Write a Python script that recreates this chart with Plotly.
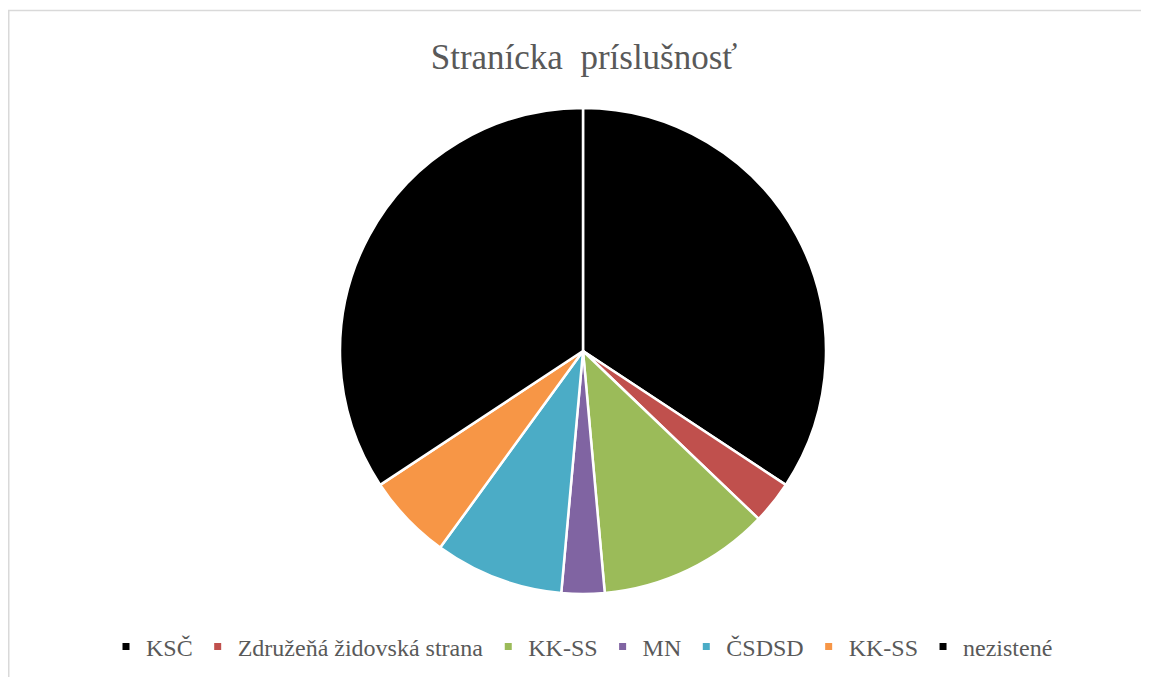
import plotly.graph_objects as go

labels = ["KSČ", "Združeňá židovská strana", "KK-SS", "MN", "ČSDSD", "KK-SS ", "nezistené"]
legend_names = ["KSČ", "Združeňá židovská strana", "KK-SS", "MN", "ČSDSD", "KK-SS", "nezistené"]
values = [12, 1, 4, 1, 3, 2, 12]
colors = ["#000000", "#C0504D", "#9BBB59", "#8064A2", "#4BACC6", "#F79646", "#000000"]

W, H = 1149, 677
OFF = 8  # page body margin offset
cx, cy, r = 583 - OFF, 351 - OFF, 243

fig = go.Figure()
fig.add_trace(go.Pie(
    labels=labels, values=values, sort=False, direction="clockwise", rotation=0,
    marker=dict(colors=colors, line=dict(color="white", width=2.5)),
    textinfo="none", hoverinfo="label+value", showlegend=False,
    domain=dict(x=[(cx - r) / W, (cx + r) / W], y=[1 - (cy + r) / H, 1 - (cy - r) / H]),
))
for name, col in zip(legend_names, colors):
    fig.add_trace(go.Scatter(
        x=[None], y=[None], mode="markers", name=name,
        marker=dict(symbol="square", size=7, color=col),
    ))

fig.update_layout(
    width=W, height=H,
    margin=dict(l=0, r=0, t=0, b=0),
    paper_bgcolor="white", plot_bgcolor="white",
    font=dict(family="Liberation Serif", color="#595959"),
    xaxis=dict(visible=False), yaxis=dict(visible=False),
    title=dict(text="Stranícka  príslušnosť", x=(584 - OFF) / W, xanchor="center",
               y=1 - (57 - OFF) / H, yanchor="middle",
               font=dict(family="Liberation Serif", size=35, color="#595959")),
    legend=dict(orientation="h", x=(582 - OFF) / W, xanchor="center", y=1 - (647 - OFF) / H, yanchor="middle",
                font=dict(family="Liberation Serif", size=24, color="#595959"),
                itemwidth=30, tracegroupgap=0),
    shapes=[dict(type="rect", xref="paper", yref="paper",
                 x0=0.75 / W, x1=1.02, y0=-0.02, y1=1 - 2.5 / H,
                 line=dict(color="#D9D9D9", width=1.5), layer="below")],
)
fig.write_html("out.html")
